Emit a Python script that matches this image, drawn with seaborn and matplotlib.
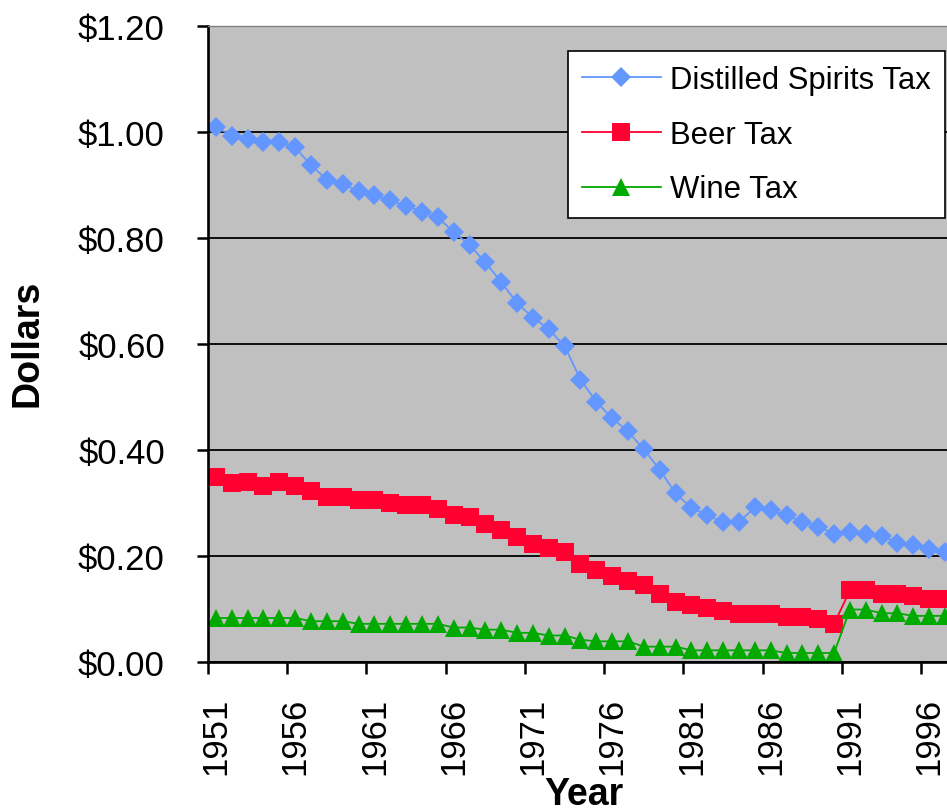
import numpy as np
import pandas as pd
import matplotlib
matplotlib.use('Agg')
import matplotlib.pyplot as plt
import seaborn as sns
from matplotlib.ticker import FixedLocator, FuncFormatter, NullFormatter

# Federal alcohol tax per unit, real dollars, 1951-1997
years = list(range(1951, 1998))

spirits_tax = [1.01, 0.993, 0.986, 0.982, 0.982, 0.971, 0.937, 0.910, 0.902, 0.888,
               0.881, 0.871, 0.860, 0.850, 0.839, 0.811, 0.787, 0.754, 0.717, 0.677,
               0.650, 0.628, 0.596, 0.533, 0.491, 0.460, 0.435, 0.401, 0.363, 0.318,
               0.291, 0.277, 0.264, 0.264, 0.292, 0.286, 0.277, 0.264, 0.255, 0.242,
               0.246, 0.242, 0.237, 0.225, 0.220, 0.214, 0.208]

beer_tax = [0.350, 0.338, 0.340, 0.333, 0.340, 0.333, 0.323, 0.311, 0.311, 0.306,
            0.306, 0.300, 0.296, 0.296, 0.289, 0.278, 0.273, 0.261, 0.250, 0.235,
            0.223, 0.216, 0.207, 0.184, 0.173, 0.163, 0.152, 0.145, 0.129, 0.113,
            0.107, 0.102, 0.096, 0.091, 0.091, 0.091, 0.085, 0.085, 0.082, 0.072,
            0.135, 0.135, 0.129, 0.129, 0.125, 0.118, 0.118]

wine_tax = [0.083, 0.083, 0.083, 0.083, 0.083, 0.083, 0.077, 0.077, 0.077, 0.072,
            0.072, 0.072, 0.072, 0.072, 0.072, 0.065, 0.065, 0.061, 0.061, 0.055,
            0.055, 0.050, 0.050, 0.042, 0.039, 0.039, 0.039, 0.029, 0.029, 0.029,
            0.022, 0.022, 0.022, 0.022, 0.022, 0.022, 0.017, 0.017, 0.017, 0.017,
            0.099, 0.099, 0.092, 0.092, 0.087, 0.087, 0.087]

series_names = ['Distilled Spirits Tax', 'Beer Tax', 'Wine Tax']
y_ticks = [0.0, 0.2, 0.4, 0.6, 0.8, 1.0, 1.2]
x_label_years = list(range(1951, 1997, 5))

df = pd.DataFrame({'Year': years,
                   series_names[0]: spirits_tax,
                   series_names[1]: beer_tax,
                   series_names[2]: wine_tax})

plt.rcParams['font.family'] = ['Liberation Sans', 'DejaVu Sans']

fig = plt.figure(figsize=(9.47, 8.12), dpi=100)
ax = fig.add_axes([208 / 947, 1 - 663 / 812, (947 - 208) / 947, (663 - 27) / 812])
ax.set_facecolor('#C0C0C0')

styles = {
    'Distilled Spirits Tax': dict(color='#6496FF', marker='D', markersize=10.5),
    'Beer Tax': dict(color='#FF0030', marker='s', markersize=12.5),
    'Wine Tax': dict(color='#00AA00', marker='^', markersize=13.5),
}
for name in series_names:
    st = styles[name]
    sns.lineplot(data=df, x='Year', y=name, ax=ax, label=name, color=st['color'],
                 marker=st['marker'], markersize=st['markersize'],
                 markeredgewidth=0, linewidth=1.3)

ax.set_ylim(0, 1.2)
ax.set_xlim(1950.5, 1950.5 + 739 / 15.85)
ax.set_yticks(y_ticks)
ax.yaxis.set_major_formatter(FuncFormatter(lambda v, p: f'${v:.2f}'))

# ticks on category boundaries, labels on category centres
ax.xaxis.set_major_locator(FixedLocator([y - 0.5 for y in x_label_years]))
ax.xaxis.set_major_formatter(NullFormatter())
ax.xaxis.set_minor_locator(FixedLocator(x_label_years))
ax.set_xticklabels([str(y) for y in x_label_years], minor=True, rotation=90)

ax.tick_params(axis='x', which='major', direction='out', length=8.4, width=1.8)
ax.tick_params(axis='x', which='minor', length=0, pad=25, labelsize=25)
ax.tick_params(axis='y', direction='out', length=8, width=1.8, pad=23, labelsize=25)

ax.yaxis.grid(True, color='black', linewidth=1.3)
ax.xaxis.grid(False)
ax.set_axisbelow(True)

for side in ['left', 'bottom']:
    ax.spines[side].set_linewidth(1.9)
    ax.spines[side].set_color('black')
ax.spines['right'].set_visible(False)
ax.spines['top'].set_color('#808080')
ax.spines['top'].set_linewidth(1.0)

ax.set_xlabel('')
ax.set_ylabel('')
fig.text(27 / 947, 1 - 343.5 / 812, 'Dollars', rotation=90, ha='center', va='center',
         fontsize=27, fontweight='bold')
fig.text(584 / 947, 1 - 805 / 812, 'Year', ha='center', va='baseline',
         fontsize=27, fontweight='bold')

leg = ax.legend(loc='upper right', bbox_to_anchor=(945 / 947, 1 - 51.7 / 812),
                bbox_transform=fig.transFigure, borderaxespad=0, fontsize=22.4,
                frameon=True, fancybox=False, shadow=False, framealpha=1,
                edgecolor='black', handlelength=2.55, handletextpad=0.29,
                labelspacing=0.8, borderpad=0.45)
leg.get_frame().set_linewidth(1.2)

fig.savefig('out.png', dpi=100)
